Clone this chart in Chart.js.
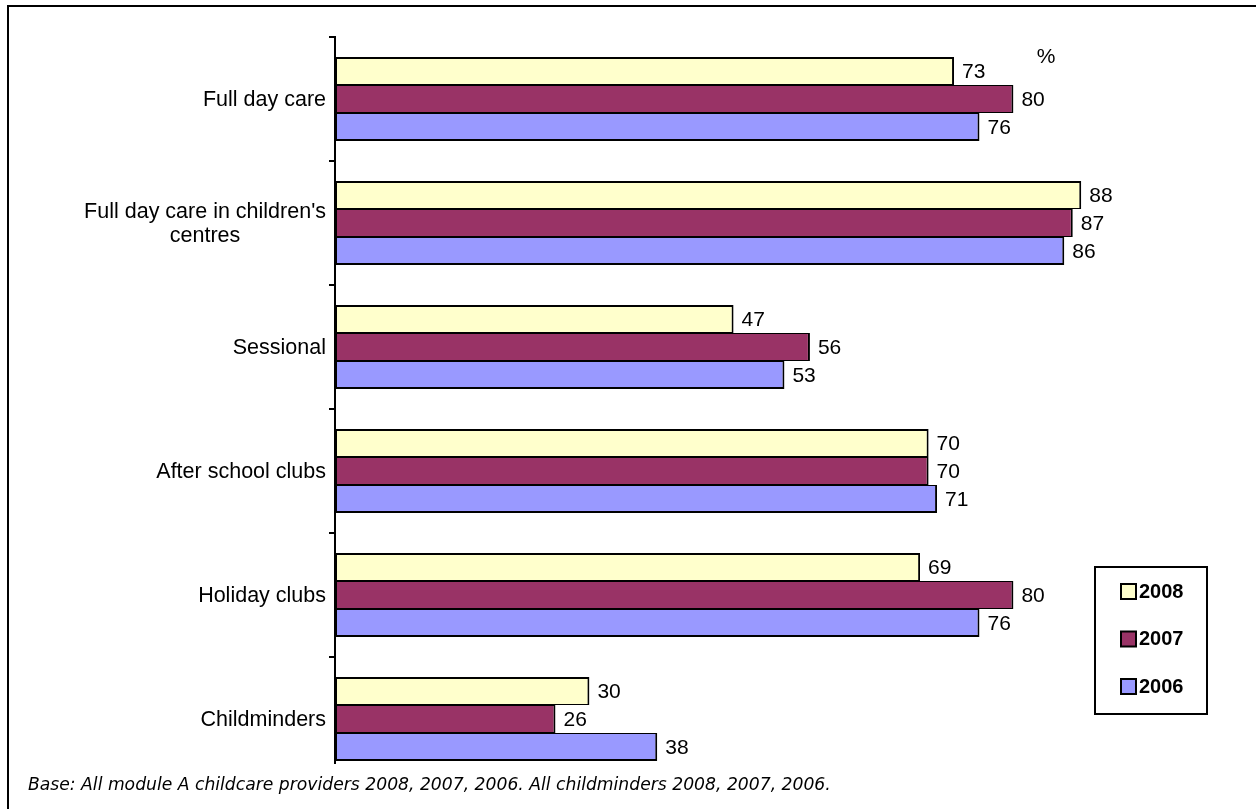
<!DOCTYPE html>
<html>
<head>
<meta charset="utf-8">
<script src="https://cdn.jsdelivr.net/npm/chart.js@4.4.1/dist/chart.umd.min.js"></script>
<style>
  html, body { margin: 0; padding: 0; background: #fff; }
  canvas { display: block; }
</style>
</head>
<body>
<canvas id="chart" width="1256" height="809"></canvas>
<script>
// categories, top to bottom
const categories = [
  "Full day care",
  ["Full day care in children's", "centres"],
  "Sessional",
  "After school clubs",
  "Holiday clubs",
  "Childminders"
];
const years = ["2008", "2007", "2006"];
const values2008 = [73, 88, 47, 70, 69, 30];
const values2007 = [80, 87, 56, 70, 80, 26];
const values2006 = [76, 86, 53, 71, 76, 38];
const colours = ["#FFFFCC", "#993366", "#9999FF"];
const unitLabel = "%";
const footnote = "Base: All module A childcare providers 2008, 2007, 2006. All childminders 2008, 2007, 2006.";

const FONT = '"Liberation Sans", Arial, sans-serif';
Chart.defaults.font.family = FONT;
Chart.defaults.color = '#000';

// borders so that touching bars share a 2px line
const borders = [
  {top: 2, bottom: 1, left: 2, right: 2},
  {top: 1, bottom: 1, left: 2, right: 2},
  {top: 1, bottom: 2, left: 2, right: 2}
];

const decorations = {
  id: 'decorations',
  afterDraw(chart) {
    const ctx = chart.ctx;
    ctx.save();
    ctx.fillStyle = '#000';
    ctx.font = '21px ' + FONT;
    ctx.textBaseline = 'middle';

    // value labels at the end of each bar
    ctx.textAlign = 'left';
    chart.data.datasets.forEach((ds, i) => {
      chart.getDatasetMeta(i).data.forEach((bar, j) => {
        ctx.fillText(String(ds.data[j]), bar.x + 8, bar.y + 1);
      });
    });

    // category labels, each block right aligned and its lines centred
    const yScale = chart.scales.y;
    ctx.font = '21.5px ' + FONT;
    ctx.textAlign = 'center';
    chart.data.labels.forEach((label, i) => {
      const lines = Array.isArray(label) ? label : [label];
      const w = Math.max(...lines.map(l => ctx.measureText(l).width));
      const cx = yScale.right - 9 - w / 2;
      const y0 = yScale.getPixelForTick(i) + 1 - (lines.length - 1) * 12;
      lines.forEach((l, k) => ctx.fillText(l, cx, y0 + k * 24));
    });

    // "%" marker
    ctx.font = '21px ' + FONT;
    ctx.fillText(unitLabel, 1046, 57);

    // legend box
    ctx.lineWidth = 2;
    ctx.strokeStyle = '#000';
    ctx.strokeRect(1095, 567, 112, 147);
    ctx.font = 'bold 20px ' + FONT;
    ctx.textAlign = 'left';
    chart.data.datasets.forEach((ds, i) => {
      const y = 591 + i * 47.5;
      ctx.fillStyle = ds.backgroundColor;
      ctx.fillRect(1121, y - 7, 15, 15);
      ctx.strokeRect(1121, y - 7, 15, 15);
      ctx.fillStyle = '#000';
      ctx.fillText(ds.label, 1139, y + 1);
    });

    // footnote on a white box
    ctx.fillStyle = '#fff';
    ctx.fillRect(9, 764, 1247, 45);
    ctx.fillStyle = '#000';
    ctx.font = 'italic 17.2px "DejaVu Sans", Verdana, sans-serif';
    ctx.fillText(footnote, 28, 786);

    // frame (top and left edges)
    ctx.fillRect(7, 5, 1249, 2);
    ctx.fillRect(7, 5, 2, 804);
    ctx.restore();
  }
};

new Chart(document.getElementById('chart'), {
  type: 'bar',
  data: {
    labels: categories,
    datasets: [
      {label: years[0], data: values2008, backgroundColor: colours[0], borderWidth: borders[0]},
      {label: years[1], data: values2007, backgroundColor: colours[1], borderWidth: borders[1]},
      {label: years[2], data: values2006, backgroundColor: colours[2], borderWidth: borders[2]}
    ]
  },
  options: {
    indexAxis: 'y',
    responsive: false,
    animation: false,
    devicePixelRatio: 1,
    layout: {padding: {left: 0, right: 73, top: 37, bottom: 28}},
    datasets: {
      bar: {
        borderColor: '#000',
        borderSkipped: false,
        categoryPercentage: 0.677,
        barPercentage: 1
      }
    },
    plugins: {
      legend: {display: false},
      tooltip: {enabled: false}
    },
    scales: {
      x: {display: false, min: 0, max: 100},
      y: {
        afterFit(scale) { scale.width = 335; },
        border: {display: true, color: '#000', width: 2},
        grid: {
          offset: true,
          drawOnChartArea: false,
          drawTicks: true,
          tickLength: 6,
          color: '#000',
          lineWidth: 2
        },
        ticks: {display: false}
      }
    }
  },
  plugins: [decorations]
});
</script>
</body>
</html>
